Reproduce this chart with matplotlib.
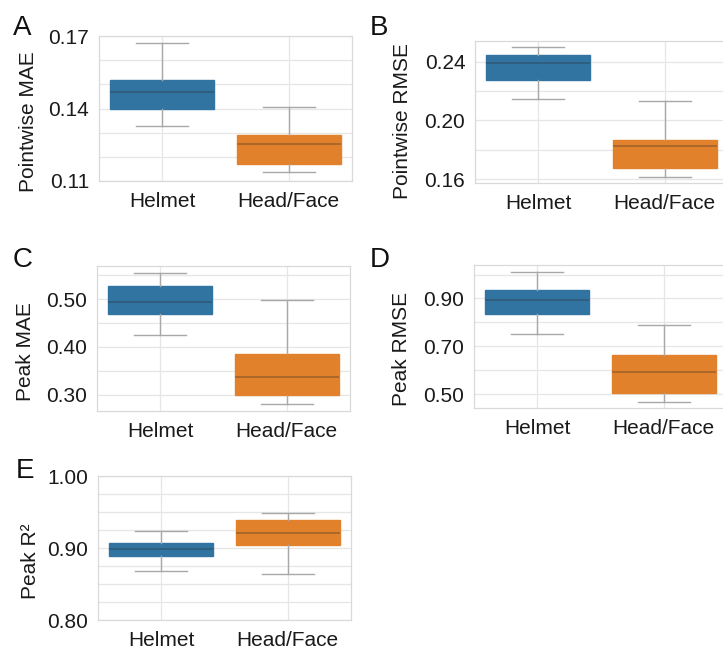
import numpy as np
import matplotlib
matplotlib.use("Agg")
import matplotlib.pyplot as plt
from matplotlib.ticker import FixedLocator, FormatStrFormatter

plt.rcParams['font.family'] = ['Liberation Sans', 'DejaVu Sans']

groups = ["Helmet", "Head/Face"]
colors = ["#3274a1", "#e1812c"]

# summary stats per panel: [Helmet, Head/Face]
mae_med = [0.1468, 0.1252]
mae_q1 = [0.1400, 0.1168]
mae_q3 = [0.1520, 0.1289]
mae_lo = [0.1329, 0.1136]
mae_hi = [0.1672, 0.1408]
mae_ticks = [0.11, 0.14, 0.17]
mae_grid = [0.11, 0.12, 0.13, 0.14, 0.15, 0.16, 0.17]

rmse_med = [0.2393, 0.1829]
rmse_q1 = [0.2278, 0.1678]
rmse_q3 = [0.2447, 0.1869]
rmse_lo = [0.2144, 0.1618]
rmse_hi = [0.2496, 0.2131]
rmse_ticks = [0.16, 0.20, 0.24]
rmse_grid = [0.16, 0.18, 0.20, 0.22, 0.24]

pk_mae_med = [0.4936, 0.3376]
pk_mae_q1 = [0.4688, 0.3000]
pk_mae_q3 = [0.5270, 0.3851]
pk_mae_lo = [0.4255, 0.2794]
pk_mae_hi = [0.5553, 0.4972]
pk_mae_ticks = [0.30, 0.40, 0.50]
pk_mae_grid = [0.30, 0.35, 0.40, 0.45, 0.50, 0.55]

pk_rmse_med = [0.8958, 0.5919]
pk_rmse_q1 = [0.8336, 0.5028]
pk_rmse_q3 = [0.9353, 0.6625]
pk_rmse_lo = [0.7530, 0.4689]
pk_rmse_hi = [1.0130, 0.7900]
pk_rmse_ticks = [0.50, 0.70, 0.90]
pk_rmse_grid = [0.50, 0.60, 0.70, 0.80, 0.90, 1.00]

pk_r2_med = [0.8986, 0.9210]
pk_r2_q1 = [0.8884, 0.9046]
pk_r2_q3 = [0.9070, 0.9383]
pk_r2_lo = [0.8682, 0.8645]
pk_r2_hi = [0.9234, 0.9487]
pk_r2_ticks = [0.80, 0.90, 1.00]
pk_r2_grid = [0.800, 0.825, 0.850, 0.875, 0.900, 0.925, 0.950, 0.975, 1.000]


def make_stats(med, q1, q3, lo, hi):
    return [dict(label=g, med=med[i], q1=q1[i], q3=q3[i],
                 whislo=lo[i], whishi=hi[i], fliers=[])
            for i, g in enumerate(groups)]


def draw_panel(ax, stats, ylabel, ticks, gridvals, lab_xy, ylim=None):
    bp = ax.bxp(stats, positions=[0, 1], widths=0.82, patch_artist=True,
                showfliers=False,
                boxprops=dict(linewidth=1.0),
                whiskerprops=dict(color="#a8a8a8", linewidth=1.0),
                capprops=dict(color="#a8a8a8", linewidth=1.0),
                medianprops=dict(color="#2b2b2b", alpha=0.35, linewidth=1.2),
                zorder=3)
    for patch, c in zip(bp["boxes"], colors):
        patch.set_facecolor(c)
        patch.set_edgecolor(c)
    ax.set_xlim(-0.5, 1.5)
    if ylim is not None:
        ax.set_ylim(*ylim)
    ax.yaxis.set_major_locator(FixedLocator(ticks))
    ax.yaxis.set_minor_locator(FixedLocator(gridvals))
    ax.yaxis.set_major_formatter(FormatStrFormatter("%.2f"))
    ax.set_xticks([0, 1])
    ax.set_xticklabels(groups)
    ax.grid(True, which="both", axis="y", color="#e6e6e6", linewidth=0.9, zorder=0)
    ax.grid(True, which="major", axis="x", color="#e6e6e6", linewidth=0.9, zorder=0)
    ax.set_axisbelow(True)
    for s in ax.spines.values():
        s.set_color("#d9d9d9")
        s.set_linewidth(0.9)
    ax.tick_params(axis="both", which="both", length=0, labelsize=15,
                   colors="#1a1a1a")
    ax.tick_params(axis="y", pad=7)
    ax.tick_params(axis="x", pad=8)
    ax.set_ylabel(ylabel, fontsize=15, color="#1a1a1a")
    ax.yaxis.set_label_coords(lab_xy[0], lab_xy[1])
    return ax


fig = plt.figure(figsize=(7.23, 6.5), dpi=100)

W = 253 / 723
axA = fig.add_axes([99 / 723, 1 - 181 / 650, W, 145 / 650])
axB = fig.add_axes([475 / 723, 1 - 183 / 650, W, 142 / 650])
axC = fig.add_axes([97 / 723, 1 - 411 / 650, W, 145 / 650])
axD = fig.add_axes([474 / 723, 1 - 408 / 650, W, 143 / 650])
axE = fig.add_axes([98 / 723, 1 - 620 / 650, W, 144 / 650])

draw_panel(axA, make_stats(mae_med, mae_q1, mae_q3, mae_lo, mae_hi),
           "Pointwise MAE", mae_ticks, mae_grid, (-0.24, 0.41),
           ylim=(0.1098, 0.1702))
draw_panel(axB, make_stats(rmse_med, rmse_q1, rmse_q3, rmse_lo, rmse_hi),
           "Pointwise RMSE", rmse_ticks, rmse_grid, (-0.25, 0.44))
draw_panel(axC, make_stats(pk_mae_med, pk_mae_q1, pk_mae_q3, pk_mae_lo, pk_mae_hi),
           "Peak MAE", pk_mae_ticks, pk_mae_grid, (-0.245, 0.41))
draw_panel(axD, make_stats(pk_rmse_med, pk_rmse_q1, pk_rmse_q3, pk_rmse_lo, pk_rmse_hi),
           "Peak RMSE", pk_rmse_ticks, pk_rmse_grid, (-0.25, 0.41))
draw_panel(axE, make_stats(pk_r2_med, pk_r2_q1, pk_r2_q3, pk_r2_lo, pk_r2_hi),
           "Peak R²", pk_r2_ticks, pk_r2_grid, (-0.23, 0.41), ylim=(0.80, 1.00))

# panel letters
for letter, (x, y) in zip("ABCDE", [(13, 35), (370, 35), (13, 267), (370, 267), (16, 478)]):
    fig.text(x / 723, 1 - y / 650, letter, fontsize=20, color="#111111",
             ha="left", va="baseline")

fig.savefig("out.png", dpi=100)
